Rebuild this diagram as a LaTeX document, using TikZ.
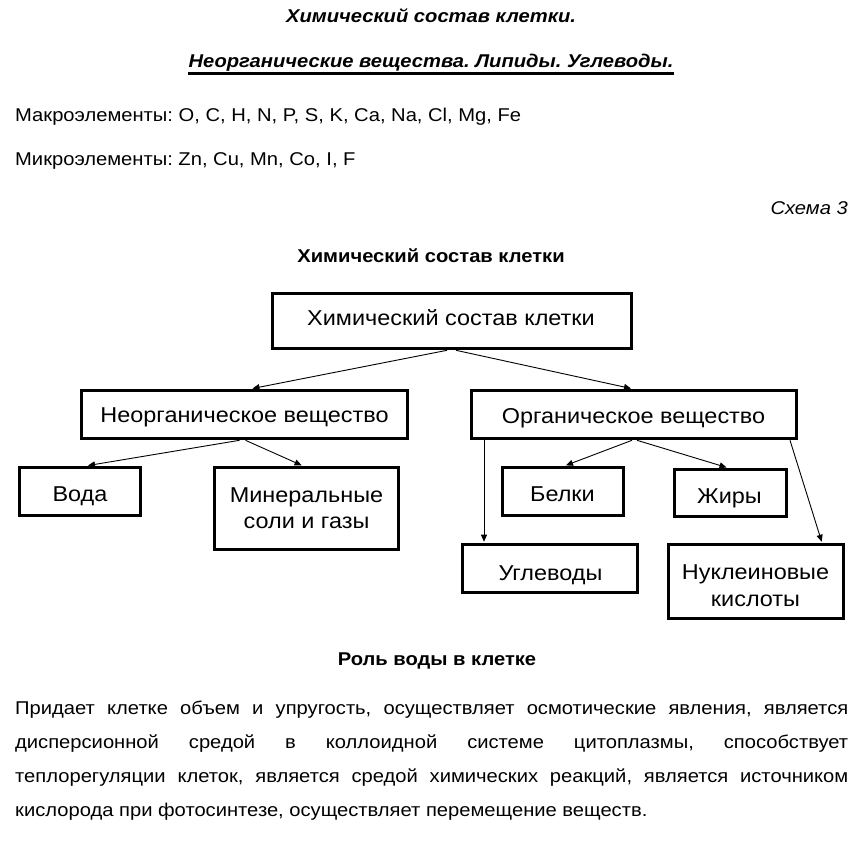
\documentclass[tikz,border=0pt]{standalone}
\usepackage{fontspec}
\setmainfont[FakeStretch=1.09]{Liberation Sans}
\usetikzlibrary{arrows.meta}
\frenchspacing
\begin{document}
\begin{tikzpicture}[x=1pt,y=-1pt,
  box/.style={draw, line width=3.6pt, inner sep=0pt},
  bt/.style={font=\fontsize{21.5}{26}\selectfont, inner sep=0pt, anchor=base},
  arr/.style={line width=0.9pt, shorten >=1pt, -{Triangle[length=7pt,width=6pt]}},
  body/.style={font=\fontsize{18.5}{22}\selectfont, inner sep=0pt, anchor=base west},
  ttl/.style={font=\fontsize{18.5}{22}\selectfont\bfseries\itshape, inner sep=0pt, anchor=base},
  hd/.style={font=\fontsize{18.5}{22}\selectfont\bfseries, inner sep=0pt, anchor=base},
]
\useasboundingbox (0,0) rectangle (860,868);

\node[ttl] (t1) at (431,22) {Химический состав клетки.};
\node[ttl] (t2) at (431,67) {Неорганические вещества. Липиды. Углеводы.};
\draw[line width=2.6pt] ([yshift=-6.5pt]t2.base west) -- ([yshift=-6.5pt]t2.base east);

\node[body] (macro) at (15,121) {Макроэлементы: O, C, H, N, P, S, K, Ca, Na, Cl, Mg, Fe};
\node[body] (micro) at (15,165.5) {Микроэлементы: Zn, Cu, Mn, Co, I, F};

\node[body, anchor=base east, font=\fontsize{18.5}{22}\selectfont\itshape] (schema) at (848,214) {Схема 3};
\node[hd] (h1) at (431,262) {Химический состав клетки};

% boxes
\node[box, minimum width=359pt, minimum height=55pt] (top) at (452,321) {};
\node[box, minimum width=326pt, minimum height=48pt] (inorg) at (244.5,414.5) {};
\node[box, minimum width=325pt, minimum height=48pt] (org) at (634,414.5) {};
\node[box, minimum width=121pt, minimum height=48pt] (voda) at (80,491.5) {};
\node[box, minimum width=184pt, minimum height=82pt] (miner) at (306.5,508.5) {};
\node[box, minimum width=121pt, minimum height=48pt] (belki) at (563,491.5) {};
\node[box, minimum width=112pt, minimum height=47pt] (zhiry) at (730.5,493) {};
\node[box, minimum width=175pt, minimum height=48pt] (ugl) at (550,568.5) {};
\node[box, minimum width=175pt, minimum height=74pt] (nukl) at (756,581.5) {};

% box texts
\node[bt] (topT) at (451,325) {Химический состав клетки};
\node[bt] (inorgT) at (244.5,422) {Неорганическое вещество};
\node[bt] (orgT) at (633.5,423) {Органическое вещество};
\node[bt] (vodaT) at (80,501) {Вода};
\node[bt] (minerT1) at (306.5,502) {Минеральные};
\node[bt] (minerT2) at (306.5,528) {соли и газы};
\node[bt] (belkiT) at (562.5,501) {Белки};
\node[bt] (zhiryT) at (729.5,503) {Жиры};
\node[bt] (uglT) at (550.5,580) {Углеводы};
\node[bt] (nuklT1) at (755.5,579) {Нуклеиновые};
\node[bt] (nuklT2) at (755.5,606) {кислоты};

% connectors
\draw[arr] ([xshift=-5pt]top.south) -- ([xshift=7pt]inorg.north);
\draw[arr] ([xshift=4pt]top.south) -- ([xshift=-2pt]org.north);
\draw[arr] ([xshift=-5pt]inorg.south) -- ([xshift=7pt]voda.north);
\draw[arr] ([xshift=1pt]inorg.south) -- ([xshift=-4pt]miner.north);
\draw[arr] ([xshift=-2pt]org.south) -- ([xshift=2pt]belki.north);
\draw[arr] ([xshift=3pt]org.south) -- ([xshift=-3pt]zhiry.north);
\draw[arr] ([xshift=-150pt]org.south) -- ([xshift=-66pt]ugl.north);
\draw[arr] ([xshift=156pt]org.south) -- ([xshift=66pt]nukl.north);

\node[hd] (h2) at (437,665) {Роль воды в клетке};
\node[body] (p1) at (15,714) {\makebox[833pt][s]{Придает клетке объем и упругость, осуществляет осмотические явления, является}};
\node[body] (p2) at (15,748) {\makebox[833pt][s]{дисперсионной средой в коллоидной системе цитоплазмы, способствует}};
\node[body] (p3) at (15,782) {\makebox[833pt][s]{теплорегуляции клеток, является средой химических реакций, является источником}};
\node[body] (p4) at (15,816) {кислорода при фотосинтезе, осуществляет перемещение веществ.};
\end{tikzpicture}
\end{document}
